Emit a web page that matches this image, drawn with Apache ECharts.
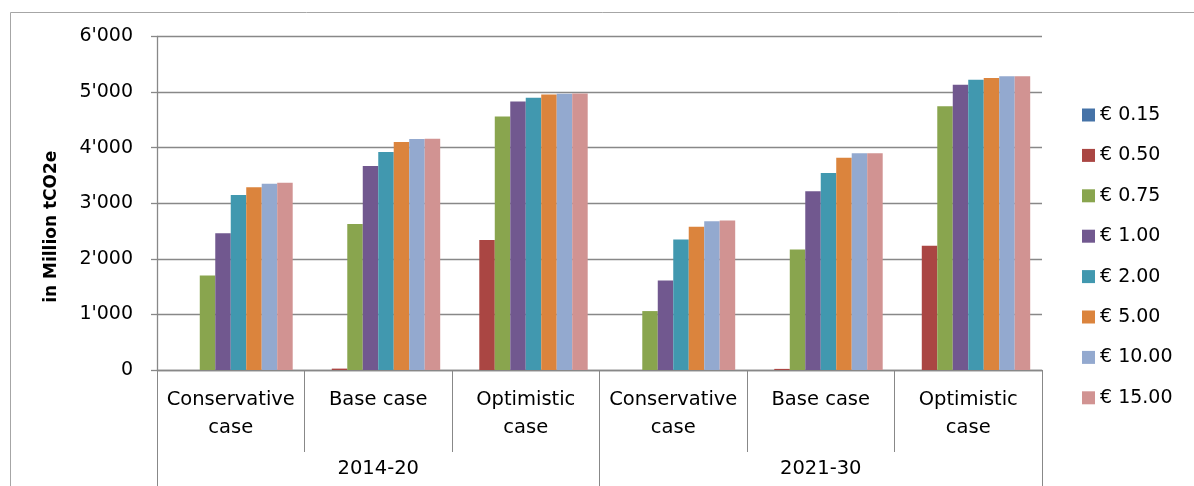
<!DOCTYPE html>
<html>
<head>
<meta charset="utf-8">
<script src="https://cdn.jsdelivr.net/npm/echarts@6/dist/echarts.min.js"></script>
<style>
  html, body { margin: 0; padding: 0; background: #fff; }
  #chart { width: 1194px; height: 486px; }
</style>
</head>
<body>
<div id="chart"></div>
<script>
// Scenario categories (inner level) and time periods (outer level)
const scenarios = ['Conservative\ncase', 'Base case', 'Optimistic\ncase',
                   'Conservative\ncase', 'Base case', 'Optimistic\ncase'];
const periods = ['2014-20', '2021-30'];

// Carbon price levels (series names)
const priceLevels = ['€ 0.15', '€ 0.50', '€ 0.75', '€ 1.00', '€ 2.00', '€ 5.00', '€ 10.00', '€ 15.00'];

// Abatement volumes in million tCO2e, one value per scenario/period
const p015  = [0, 0, 0, 0, 0, 0];
const p050  = [0, 25, 2340, 0, 20, 2235];
const p075  = [1700, 2625, 4560, 1060, 2170, 4745];
const p100  = [2460, 3670, 4830, 1610, 3215, 5130];
const p200  = [3150, 3920, 4900, 2350, 3545, 5220];
const p500  = [3290, 4100, 4955, 2575, 3820, 5255];
const p1000 = [3350, 4155, 4970, 2675, 3900, 5285];
const p1500 = [3370, 4160, 4975, 2690, 3900, 5285];

const seriesValues = [p015, p050, p075, p100, p200, p500, p1000, p1500];

// Value axis range
const yMin = 0, yMax = 6000, yStep = 1000;

const palette = ['#4572A7', '#AA4643', '#89A54E', '#71588F', '#4198AF', '#DB843D', '#93A9CF', '#D19392'];
const font = 'DejaVu Sans';
const gridColor = '#888888';

const chart = echarts.init(document.getElementById('chart'), null, { renderer: 'canvas' });

chart.setOption({
  animation: false,
  backgroundColor: '#ffffff',
  color: palette,
  textStyle: { fontFamily: font, color: '#000' },
  graphic: [{
    type: 'rect',
    silent: true,
    shape: { x: 10.5, y: 12.5, width: 1400, height: 700 },
    style: { fill: 'none', stroke: '#a6a6a6', lineWidth: 1 }
  }],
  grid: { left: 157, right: 152, top: 36.5, bottom: 116 },
  legend: {
    orient: 'vertical',
    left: 1082,
    top: 105,
    padding: 0,
    itemWidth: 13,
    itemHeight: 13,
    itemGap: 20.4,
    icon: 'rect',
    data: priceLevels,
    textStyle: { fontFamily: font, fontSize: 19, color: '#000', lineHeight: 20 }
  },
  xAxis: [{
    type: 'category',
    data: scenarios,
    axisLine: { show: true, lineStyle: { color: gridColor, width: 1.3 } },
    axisTick: { show: true, interval: 0, length: 82, lineStyle: { color: gridColor, width: 1 } },
    axisLabel: {
      interval: 0, margin: 16,
      fontFamily: font, fontSize: 19.5, color: '#000', lineHeight: 28
    },
    splitLine: { show: false }
  }, {
    type: 'category',
    data: periods,
    position: 'bottom',
    axisLine: { show: false },
    axisTick: { show: true, interval: 0, length: 116, lineStyle: { color: gridColor, width: 1 } },
    axisLabel: {
      interval: 0, margin: 88,
      fontFamily: font, fontSize: 19.5, color: '#000', lineHeight: 22
    },
    splitLine: { show: false }
  }],
  yAxis: {
    type: 'value',
    min: yMin, max: yMax, interval: yStep,
    name: 'in Million tCO2e',
    nameLocation: 'middle',
    nameGap: 97,
    nameRotate: 90,
    nameTextStyle: { fontFamily: font, fontSize: 17, fontWeight: 'bold', color: '#000', padding: [0, 47, 0, 0] },
    axisLine: { show: true, lineStyle: { color: gridColor, width: 1.3 } },
    axisTick: { show: true, inside: false, length: 6, lineStyle: { color: gridColor, width: 1.3 } },
    axisLabel: {
      margin: 24,
      fontFamily: font, fontSize: 19, color: '#000',
      formatter: v => String(v).replace(/\B(?=(\d{3})+(?!\d))/g, "'")
    },
    splitLine: { show: true, lineStyle: { color: gridColor, width: 1.3 } }
  },
  series: priceLevels.map((name, i) => ({
    name: name,
    type: 'bar',
    xAxisIndex: 0,
    data: seriesValues[i],
    barGap: '0%',
    barCategoryGap: '16%',
    itemStyle: { color: palette[i] }
  }))
});
</script>
</body>
</html>
